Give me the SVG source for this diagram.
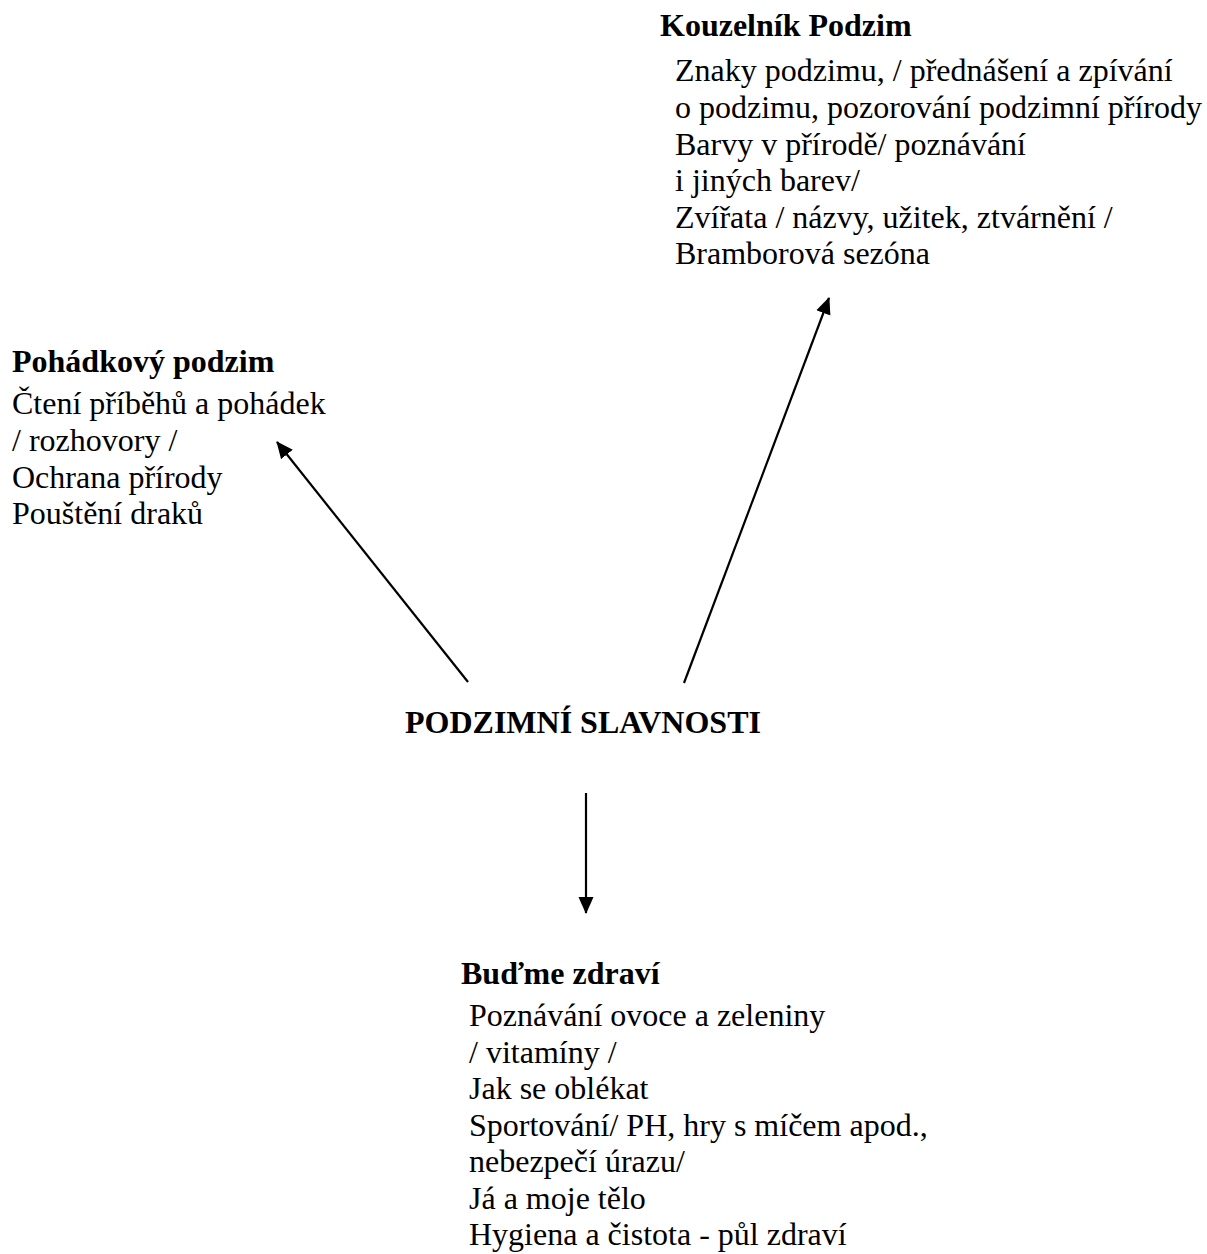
<svg xmlns="http://www.w3.org/2000/svg" width="1207" height="1254" viewBox="0 0 1207 1254">
<style>
text{font-family:"Liberation Serif","Times New Roman",serif;font-size:32px;fill:#000}
.t{font-weight:bold}
.c{stroke:#000;stroke-width:2.2;fill:none}
</style>
<defs>
<marker id="ah" markerWidth="17" markerHeight="16" refX="16" refY="7.5" orient="auto" markerUnits="userSpaceOnUse" viewBox="0 0 17 15">
<path d="M0,0 L17,7.5 L0,15 Z" fill="#000"/>
</marker>
</defs>
<rect width="1207" height="1254" fill="#fff"/>
<g id="connectors">
<line class="c" x1="468" y1="682" x2="277" y2="442" marker-end="url(#ah)"/>
<line class="c" x1="684" y1="683" x2="829" y2="298" marker-end="url(#ah)"/>
<line class="c" x1="586" y1="793" x2="586" y2="913" marker-end="url(#ah)"/>
</g>
<g id="center">
<text class="t" x="405" y="733">PODZIMNÍ SLAVNOSTI</text>
</g>
<g id="kouzelnik">
<text class="t" x="660" y="36">Kouzelník Podzim</text>
<text x="675" y="81">Znaky podzimu, / přednášení a zpívání</text>
<text x="675" y="118">o podzimu, pozorování podzimní přírody</text>
<text x="675" y="155">Barvy v přírodě/ poznávání</text>
<text x="675" y="191">i jiných barev/</text>
<text x="675" y="228">Zvířata / názvy, užitek, ztvárnění /</text>
<text x="675" y="264">Bramborová sezóna</text>
</g>
<g id="pohadkovy">
<text class="t" x="12" y="372">Pohádkový podzim</text>
<text x="12" y="414">Čtení příběhů a pohádek</text>
<text x="12" y="451">/ rozhovory /</text>
<text x="12" y="488">Ochrana přírody</text>
<text x="12" y="524">Pouštění draků</text>
</g>
<g id="budme">
<text class="t" x="461" y="984">Buďme zdraví</text>
<text x="469" y="1026">Poznávání ovoce a zeleniny</text>
<text x="469" y="1063">/ vitamíny /</text>
<text x="469" y="1099">Jak se oblékat</text>
<text x="469" y="1136">Sportování/ PH, hry s míčem apod.,</text>
<text x="469" y="1172">nebezpečí úrazu/</text>
<text x="469" y="1209">Já a moje tělo</text>
<text x="469" y="1245">Hygiena a čistota - půl zdraví</text>
</g>
</svg>
